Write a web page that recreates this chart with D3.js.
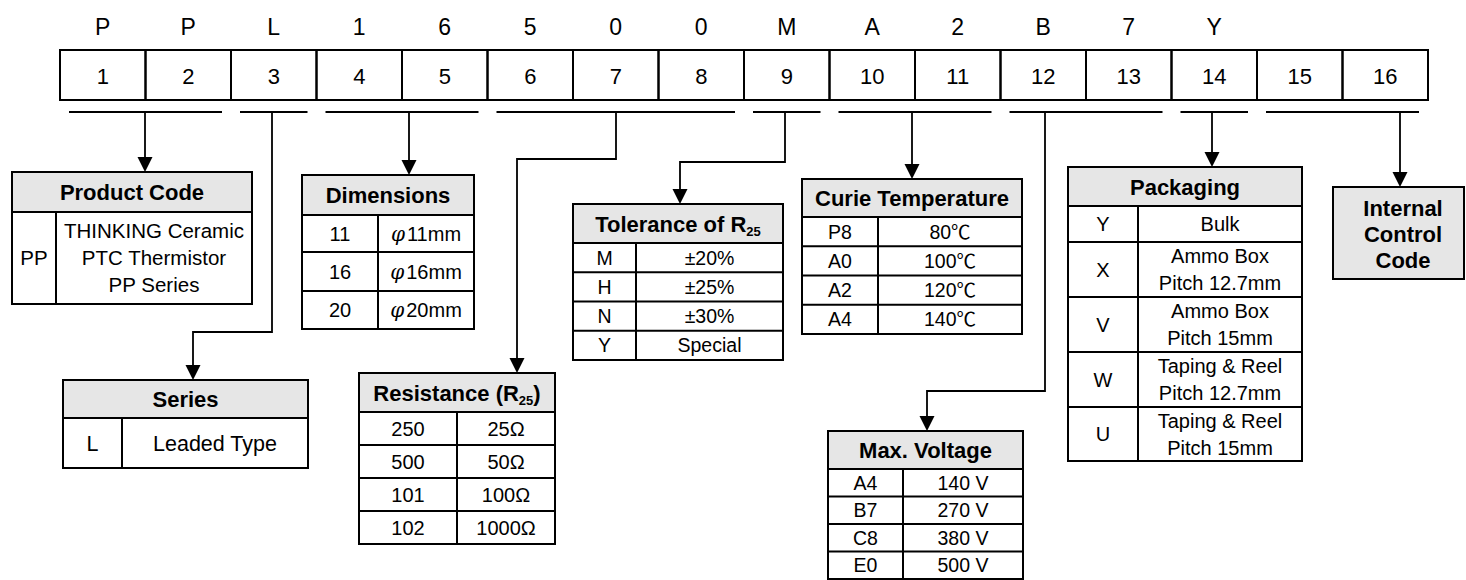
<!DOCTYPE html>
<html>
<head>
<meta charset="utf-8">
<script src="https://cdn.jsdelivr.net/npm/d3@7"></script>
<style>
  body { margin: 0; background: #fff; }
  svg { display: block; font-family: "Liberation Sans", Arial, "Noto Sans CJK JP", sans-serif; }
</style>
</head>
<body>
<script>
// part number breakdown: PPL1650 0MA2B7Y

var codeLetters = ["P", "P", "L", "1", "6", "5", "0", "0", "M", "A", "2", "B", "7", "Y"];
var positions = d3.range(1, 17);
var segments = [[1, 2], [3, 3], [4, 5], [6, 8], [9, 9], [10, 11], [12, 13], [14, 14], [15, 16]];

var productCode = [["PP", "THINKING Ceramic\nPTC Thermistor\nPP Series"]];
var series = [["L", "Leaded Type"]];
var dimensions = [["11", "11mm"], ["16", "16mm"], ["20", "20mm"]];
var resistance = [["250", "25Ω"], ["500", "50Ω"], ["101", "100Ω"], ["102", "1000Ω"]];
var tolerance = [["M", "±20%"], ["H", "±25%"], ["N", "±30%"], ["Y", "Special"]];
var curie = [["P8", "80℃"], ["A0", "100℃"], ["A2", "120℃"], ["A4", "140℃"]];
var maxVoltage = [["A4", "140 V"], ["B7", "270 V"], ["C8", "380 V"], ["E0", "500 V"]];
var packaging = [["Y", "Bulk"], ["X", "Ammo Box\nPitch 12.7mm"], ["V", "Ammo Box\nPitch 15mm"],
                 ["W", "Taping & Reel\nPitch 12.7mm"], ["U", "Taping & Reel\nPitch 15mm"]];
var internalCode = ["Internal", "Control", "Code"];

var width = 1466, height = 580;
var headFill = "#e6e6e6";

// table placement
var tables = [
  {title: [["Product Code"]], rows: productCode, x: 12, y: 172, w: 240, headH: 40, col1: 44, rowH: [92], font: 20.5, lineH: 27},
  {title: [["Dimensions"]], rows: dimensions, phi: true, x: 302, y: 175, w: 172, headH: 40, col1: 76, rowH: [37, 39, 38], font: 20},
  {title: [["Series"]], rows: series, x: 63, y: 380, w: 245, headH: 38, col1: 59, rowH: [50], font: 21.5},
  {title: [["Resistance (R"], ["25", "sub"], [")"]], rows: resistance, x: 359, y: 373, w: 196, headH: 39, col1: 98, rowH: 33, font: 20},
  {title: [["Tolerance of R"], ["25", "sub"]], rows: tolerance, x: 573, y: 204, w: 210, headH: 39, col1: 63, rowH: 29.25, font: 19.5},
  {title: [["Curie Temperature"]], rows: curie, x: 802, y: 179, w: 220, headH: 38, col1: 76, rowH: 29.25, font: 19.5},
  {title: [["Max. Voltage"]], rows: maxVoltage, x: 828, y: 431, w: 195, headH: 38, col1: 75, rowH: 27.5, font: 19.5},
  {title: [["Packaging"]], rows: packaging, x: 1068, y: 167, w: 234, headH: 39, col1: 70, rowH: [36, 55, 55, 55, 54], font: 20, lineH: 27}
];

// elbow connectors from the underlines to each table
var links = [
  [[145, 112], [145, 172]],
  [[272, 112], [272, 332], [193, 332], [193, 380]],
  [[409, 112], [409, 175]],
  [[616, 112], [616, 159], [517, 159], [517, 373]],
  [[785, 112], [785, 162], [680, 162], [680, 204]],
  [[912, 112], [912, 179]],
  [[1045, 112], [1045, 391], [927, 391], [927, 431]],
  [[1212, 112], [1212, 167]],
  [[1400, 112], [1400, 187]]
];

var svg = d3.select("body").append("svg")
    .attr("width", width)
    .attr("height", height);

var x = d3.scaleBand().domain(positions).range([60, 1428]);

// top letters
svg.append("g").selectAll("text")
  .data(codeLetters)
  .enter().append("text")
    .attr("x", function(d, i) { return x(positions[i]) + x.bandwidth() / 2 })
    .attr("y", 35)
    .attr("text-anchor", "middle")
    .style("font-size", "23px")
    .text(function(d) { return d });

// numbered cells
var cells = svg.append("g");
cells.selectAll("rect")
  .data(positions)
  .enter().append("rect")
    .attr("x", function(d) { return x(d) })
    .attr("y", 50)
    .attr("width", x.bandwidth())
    .attr("height", 50)
    .attr("fill", "none")
    .attr("stroke", "#000")
    .attr("stroke-width", 2);
cells.selectAll("text")
  .data(positions)
  .enter().append("text")
    .attr("x", function(d) { return x(d) + x.bandwidth() / 2 })
    .attr("y", 84)
    .attr("text-anchor", "middle")
    .style("font-size", "22px")
    .text(function(d) { return d });

// underlines
svg.append("g").selectAll("line")
  .data(segments)
  .enter().append("line")
    .attr("x1", function(d) { return x(d[0]) + 9 })
    .attr("x2", function(d) { return x(d[1]) + x.bandwidth() - 9 })
    .attr("y1", 112)
    .attr("y2", 112)
    .attr("stroke", "#000")
    .attr("stroke-width", 2);

// connectors + arrowheads
var lg = svg.append("g");
lg.selectAll("path.link")
  .data(links)
  .enter().append("path")
    .attr("class", "link")
    .attr("fill", "none")
    .attr("stroke", "#000")
    .attr("stroke-width", 1.8)
    .attr("d", function(d) {
      var pts = d.slice();
      var last = pts[pts.length - 1];
      pts[pts.length - 1] = [last[0], last[1] - 10];
      return d3.line()(pts);
    });
lg.selectAll("path.head")
  .data(links)
  .enter().append("path")
    .attr("class", "head")
    .attr("fill", "#000")
    .attr("d", function(d) {
      var p = d[d.length - 1];
      return "M" + (p[0] - 7.5) + "," + (p[1] - 15) + "L" + (p[0] + 7.5) + "," + (p[1] - 15) + "L" + p[0] + "," + p[1] + "Z";
    });

function drawTable(t) {
  var g = svg.append("g").attr("class", "table");
  var rh = Array.isArray(t.rowH) ? t.rowH : t.rows.map(function() { return t.rowH });
  var total = d3.sum(rh);
  var ys = d3.cumsum([0].concat(rh)).map(function(v) { return t.y + t.headH + v });

  g.append("rect")
    .attr("x", t.x).attr("y", t.y)
    .attr("width", t.w).attr("height", t.headH + total)
    .attr("fill", "#fff");
  g.append("rect")
    .attr("x", t.x).attr("y", t.y)
    .attr("width", t.w).attr("height", t.headH)
    .attr("fill", headFill);

  var title = g.append("text")
    .attr("x", t.x + t.w / 2)
    .attr("y", t.y + t.headH / 2 + 8)
    .attr("text-anchor", "middle")
    .style("font-size", "22px")
    .style("font-weight", "bold");
  t.title.forEach(function(p) {
    var s = title.append("tspan").text(p[0]);
    if (p[1] == "sub") s.style("font-size", "13px").attr("dy", 4);
    else if (s.node().previousSibling) s.attr("dy", -4);
  });

  // grid lines
  g.selectAll("line.row")
    .data(ys.slice(0, -1))
    .enter().append("line")
      .attr("x1", t.x).attr("x2", t.x + t.w)
      .attr("y1", function(d) { return d }).attr("y2", function(d) { return d })
      .attr("stroke", "#000").attr("stroke-width", 2);
  g.append("line")
    .attr("x1", t.x + t.col1).attr("x2", t.x + t.col1)
    .attr("y1", t.y + t.headH).attr("y2", t.y + t.headH + total)
    .attr("stroke", "#000").attr("stroke-width", 2);
  g.append("rect")
    .attr("x", t.x).attr("y", t.y)
    .attr("width", t.w).attr("height", t.headH + total)
    .attr("fill", "none").attr("stroke", "#000").attr("stroke-width", 2);

  t.rows.forEach(function(r, i) {
    var cy = (ys[i] + ys[i + 1]) / 2;
    g.append("text")
      .attr("x", t.x + t.col1 / 2)
      .attr("y", cy)
      .attr("dy", "0.36em")
      .attr("text-anchor", "middle")
      .style("font-size", t.font + "px")
      .text(r[0]);
    var lines = r[1].split("\n");
    var lh = t.lineH || t.font * 1.2;
    var txt = g.append("text")
      .attr("text-anchor", "middle")
      .style("font-size", t.font + "px");
    lines.forEach(function(l, j) {
      var s = txt.append("tspan")
        .attr("x", t.x + t.col1 + (t.w - t.col1) / 2)
        .attr("y", cy + (j - (lines.length - 1) / 2) * lh)
        .attr("dy", "0.36em");
      if (t.phi) {
        s.append("tspan").style("font-style", "italic").style("font-family", "DejaVu Serif").text("φ");
        s.append("tspan").attr("dx", 2).text(l);
      } else {
        s.text(l);
      }
    });
  });
}

tables.forEach(drawTable);

// internal control code box
var ic = svg.append("g");
ic.append("rect")
  .attr("x", 1333).attr("y", 187)
  .attr("width", 131).attr("height", 92)
  .attr("fill", headFill)
  .attr("stroke", "#000").attr("stroke-width", 2);
ic.selectAll("text")
  .data(internalCode)
  .enter().append("text")
    .attr("x", 1403)
    .attr("y", function(d, i) { return 208 + i * 26 })
    .attr("dy", "0.36em")
    .attr("text-anchor", "middle")
    .style("font-size", "22px")
    .style("font-weight", "bold")
    .text(function(d) { return d });
</script>
</body>
</html>
